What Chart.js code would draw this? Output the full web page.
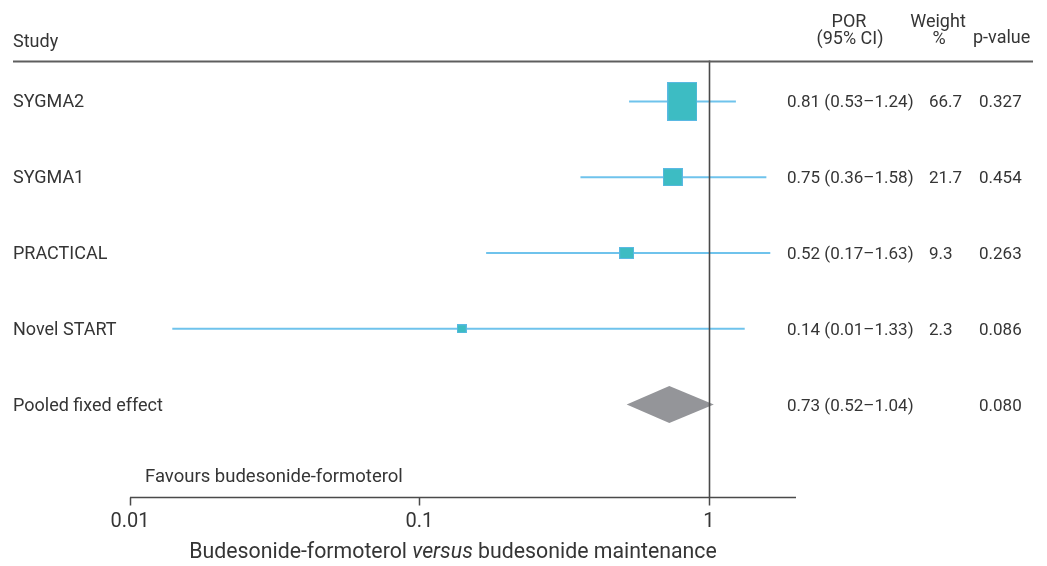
<!DOCTYPE html>
<html>
<head>
<meta charset="utf-8">
<script src="https://cdn.jsdelivr.net/npm/chart.js@4/dist/chart.umd.min.js"></script>
<style>
  html, body { margin: 0; padding: 0; background: #ffffff; }
  #wrap { width: 1047px; height: 566px; position: relative; }
</style>
</head>
<body>
<div id="wrap"><canvas id="forest" width="1047" height="566"></canvas></div>
<script>
// Individual trials
const studies   = ['SYGMA2', 'SYGMA1', 'PRACTICAL', 'Novel START'];
const oddsRatio = [0.81, 0.75, 0.52, 0.14];
const ciLower   = [0.53, 0.36, 0.17, 0.014];
const ciUpper   = [1.24, 1.58, 1.63, 1.33];
const weights   = [66.7, 21.7, 9.3, 2.3];
const pValues   = ['0.327', '0.454', '0.263', '0.086'];

// Pooled estimate
const pooledName  = 'Pooled fixed effect';
const pooledOR    = [0.73];
const pooledLower = [0.52];
const pooledUpper = [1.04];
const pooledP     = ['0.080'];

// Axis
const axisTicks     = [0.01, 0.1, 1];
const axisTickText  = ['0.01', '0.1', '1'];

const FONT = 'Roboto, "Open Sans", sans-serif';
const TEXT = '#353535';
const LINE = '#4a4a4a';

// weight-scaled square markers, drawn as canvas point styles
function makeBox(w) {
  const bw = Math.round(6 + 2.9 * Math.sqrt(w));
  const bh = Math.round(8 + 0.46 * w);
  const c = document.createElement('canvas');
  c.width = bw; c.height = bh;
  const g = c.getContext('2d');
  g.fillStyle = '#3dbcc3';
  g.fillRect(0, 0, bw, bh);
  g.strokeStyle = '#5ab9e3';
  g.lineWidth = 1;
  g.strokeRect(0.5, 0.5, bw - 1, bh - 1);
  return c;
}

const rowOf = i => i + 1;
const pooledRow = studies.length + 1;
const diamondHalf = 0.245;

const datasets = [];

// point estimates
datasets.push({
  type: 'scatter',
  order: 0,
  data: studies.map((s, i) => ({ x: oddsRatio[i], y: rowOf(i) })),
  pointStyle: weights.map(makeBox),
  pointRadius: 5,
  pointHoverRadius: 5
});

// confidence intervals
studies.forEach((s, i) => {
  datasets.push({
    type: 'line',
    order: 2,
    data: [{ x: ciLower[i], y: rowOf(i) }, { x: ciUpper[i], y: rowOf(i) }],
    borderColor: '#6fc3ec',
    borderWidth: 2,
    pointRadius: 0,
    fill: false
  });
});

// pooled diamond
datasets.push({
  type: 'line',
  order: 1,
  data: [
    { x: pooledLower[0], y: pooledRow },
    { x: pooledOR[0], y: pooledRow - diamondHalf },
    { x: pooledUpper[0], y: pooledRow },
    { x: pooledOR[0], y: pooledRow + diamondHalf },
    { x: pooledLower[0], y: pooledRow }
  ],
  borderWidth: 0,
  borderColor: 'rgba(0,0,0,0)',
  backgroundColor: '#949599',
  pointRadius: 0,
  tension: 0,
  fill: 'shape'
});

const decorations = {
  id: 'forestDecorations',
  afterDatasetsDraw(chart) {
    const { ctx, chartArea } = chart;
    const xs = chart.scales.x, ys = chart.scales.y;
    ctx.save();

    // line of no effect
    const x1 = Math.round(xs.getPixelForValue(1)) + 0.5;
    ctx.strokeStyle = LINE;
    ctx.lineWidth = 1.6;
    ctx.beginPath();
    ctx.moveTo(x1, 60.5);
    ctx.lineTo(x1, chartArea.bottom);
    ctx.stroke();

    // header rule
    ctx.strokeStyle = '#5e5e5e';
    ctx.lineWidth = 2;
    ctx.beginPath();
    ctx.moveTo(13, 61.5);
    ctx.lineTo(1033, 61.5);
    ctx.stroke();

    // x axis line and ticks
    const yAxis = chartArea.bottom + 0.5;
    ctx.strokeStyle = LINE;
    ctx.lineWidth = 1.5;
    ctx.beginPath();
    ctx.moveTo(chartArea.left, yAxis);
    ctx.lineTo(chartArea.right, yAxis);
    axisTicks.forEach(t => {
      const px = Math.round(xs.getPixelForValue(t)) + 0.5;
      ctx.moveTo(px, yAxis);
      ctx.lineTo(px, yAxis + 8);
    });
    ctx.stroke();

    ctx.fillStyle = TEXT;
    ctx.font = '20px ' + FONT;
    ctx.textAlign = 'center';
    ctx.textBaseline = 'alphabetic';
    axisTicks.forEach((t, i) => {
      ctx.fillText(axisTickText[i], xs.getPixelForValue(t), 527);
    });

    // axis title with italic "versus"
    const parts = [
      ['Budesonide-formoterol ', 'normal'],
      ['versus', 'italic'],
      [' budesonide maintenance', 'normal']
    ];
    ctx.textAlign = 'left';
    const titleFont = st => (st === 'italic' ? 'italic ' : '') + '21.3px ' + FONT;
    const widths = parts.map(p => {
      ctx.font = titleFont(p[1]);
      return ctx.measureText(p[0]).width;
    });
    const total = widths.reduce((a, b) => a + b, 0);
    let tx = 453 - total / 2;
    parts.forEach((p, i) => {
      ctx.font = titleFont(p[1]);
      ctx.fillText(p[0], tx, 558);
      tx += widths[i];
    });

    ctx.font = '18.5px ' + FONT;
    ctx.fillText('Favours budesonide-formoterol', 145, 482);

    // column headers
    ctx.font = '18px ' + FONT;
    ctx.fillText('Study', 13, 47);
    ctx.textAlign = 'center';
    ctx.fillText('POR', 849, 27);
    ctx.fillText('(95% CI)', 850, 44);
    ctx.fillText('Weight', 938, 27);
    ctx.fillText('%', 939, 44);
    ctx.textAlign = 'left';
    ctx.fillText('p-value', 973, 43);

    // rows
    const fmt = v => v.toFixed(2);
    studies.forEach((s, i) => {
      const y = ys.getPixelForValue(rowOf(i)) + 6;
      ctx.font = '18px ' + FONT;
      ctx.fillText(s, 13, y);
      ctx.font = '17px ' + FONT;
      ctx.fillText(fmt(oddsRatio[i]) + ' (' + fmt(ciLower[i]) + '\u2013' + fmt(ciUpper[i]) + ')', 787, y);
      ctx.fillText(weights[i].toFixed(1), 929, y);
      ctx.fillText(pValues[i], 979, y);
    });
    const yp = ys.getPixelForValue(pooledRow) + 6;
    ctx.font = '18px ' + FONT;
    ctx.fillText(pooledName, 13, yp);
    ctx.font = '17px ' + FONT;
    ctx.fillText(fmt(pooledOR[0]) + ' (' + fmt(pooledLower[0]) + '\u2013' + fmt(pooledUpper[0]) + ')', 787, yp);
    ctx.fillText(pooledP[0], 979, yp);

    ctx.restore();
  }
};

new Chart(document.getElementById('forest'), {
  type: 'scatter',
  data: { datasets },
  options: {
    responsive: false,
    devicePixelRatio: 1,
    animation: false,
    events: [],
    layout: { padding: { left: 130, right: 251, top: 62, bottom: 69 }, autoPadding: false },
    plugins: { legend: { display: false }, tooltip: { enabled: false } },
    scales: {
      x: { type: 'logarithmic', min: 0.01, max: 2, display: false },
      y: { type: 'linear', min: 0.48, max: 6.22, reverse: true, display: false }
    }
  },
  plugins: [decorations]
});
</script>
</body>
</html>
